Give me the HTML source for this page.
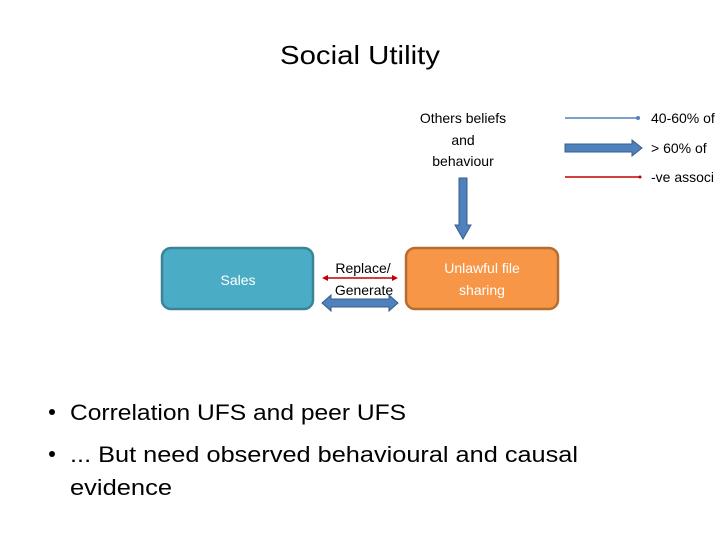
<!DOCTYPE html>
<html><head><style>html,body{margin:0;padding:0;background:#fff}</style></head>
<body>
<svg width="720" height="540" viewBox="0 0 720 540" xmlns="http://www.w3.org/2000/svg" font-family="Liberation Sans, sans-serif">
<rect width="720" height="540" fill="#fff"/>
<text x="360" y="64" font-size="26" text-anchor="middle" fill="#000" textLength="160" lengthAdjust="spacingAndGlyphs">Social Utility</text>
<g font-size="14" fill="#000" text-anchor="middle">
<text x="463" y="123">Others beliefs</text>
<text x="463" y="145">and</text>
<text x="463" y="166">behaviour</text>
</g>
<!-- down arrow -->
<polygon points="459,178 467,178 467,225 471,225 463,239 455,225 459,225" fill="#4F81BD" stroke="#385D8A" stroke-width="1"/>
<!-- boxes -->
<rect x="162" y="248" width="151" height="61" rx="9" fill="#4BACC6" stroke="#3C8397" stroke-width="2.5"/>
<text x="238" y="285" font-size="14" fill="#fff" text-anchor="middle">Sales</text>
<rect x="406" y="248" width="152" height="61" rx="9" fill="#F79646" stroke="#B66D31" stroke-width="2.5"/>
<text x="482" y="273" font-size="14" fill="#fff" text-anchor="middle">Unlawful file</text>
<text x="482" y="295" font-size="14" fill="#fff" text-anchor="middle">sharing</text>
<!-- labels -->
<text x="363" y="273" font-size="14" fill="#000" text-anchor="middle">Replace/</text>
<text x="364" y="295" font-size="14" fill="#000" text-anchor="middle">Generate</text>
<!-- red double arrow -->
<line x1="326" y1="278" x2="394" y2="278" stroke="#C00000" stroke-width="1.5"/>
<polygon points="322,278 328,275 328,281" fill="#C00000"/>
<polygon points="398,278 392,275 392,281" fill="#C00000"/>
<!-- thick double arrow -->
<polygon points="322,303 331,295 331,299 389,299 389,295 398,303 389,311 389,307 331,307 331,311" fill="#4F81BD" stroke="#385D8A" stroke-width="1"/>
<!-- legend -->
<line x1="565" y1="118" x2="638" y2="118" stroke="#4F81BD" stroke-width="1.5"/>
<circle cx="638" cy="118" r="2" fill="#4F81BD"/>
<polygon points="565,144 632,144 632,140 642,148 632,156 632,152 565,152" fill="#4F81BD" stroke="#385D8A" stroke-width="1"/>
<line x1="565" y1="177" x2="640" y2="177" stroke="#C00000" stroke-width="1.5"/>
<circle cx="640" cy="177" r="1.5" fill="#C00000"/>
<g font-size="14" fill="#000">
<text x="651" y="123">40-60% of</text>
<text x="651" y="153">&gt; 60% of</text>
<text x="651" y="182">-ve associ</text>
</g>
<!-- bullets -->
<g font-size="22" fill="#000">
<circle cx="52" cy="412" r="3" fill="#000"/>
<text x="70" y="420" textLength="336" lengthAdjust="spacingAndGlyphs">Correlation UFS and peer UFS</text>
<circle cx="52" cy="454" r="3" fill="#000"/>
<text x="70" y="462" textLength="508" lengthAdjust="spacingAndGlyphs">... But need observed behavioural and causal</text>
<text x="70" y="495" textLength="102" lengthAdjust="spacingAndGlyphs">evidence</text>
</g>
</svg>
</body></html>
